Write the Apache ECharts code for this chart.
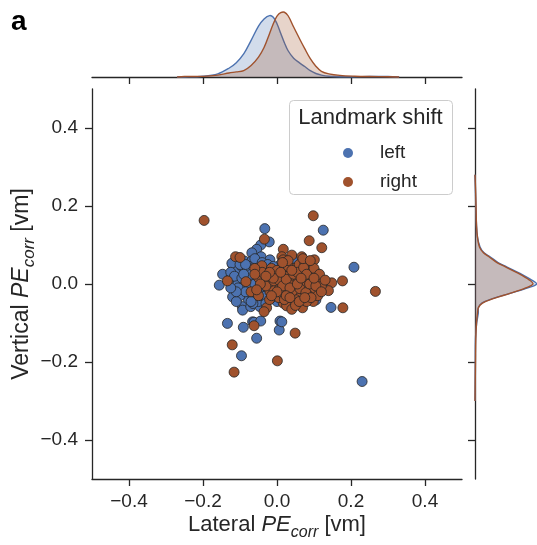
<!DOCTYPE html>
<html><head><meta charset="utf-8">
<script src="https://cdn.jsdelivr.net/npm/echarts@6/dist/echarts.min.js"></script>
<style>html,body{margin:0;padding:0;background:#fff}#c{width:537px;height:545px}</style>
</head><body><div id="c"></div>
<script>
// ---------- data ----------
const groupNames = ['left', 'right'];
const tickValues = [-0.4, -0.2, 0.0, 0.2, 0.4];

const leftPoints = [
  [-0.033,0.142],[0.125,0.138],[-0.021,0.108],[-0.044,0.100],[-0.055,0.089],[-0.068,0.080],
  [-0.120,0.050],[-0.088,0.059],[-0.068,0.059],[-0.043,0.070],[-0.019,0.062],[-0.064,0.036],
  [-0.147,0.025],[-0.156,-0.003],[-0.100,0.019],[-0.035,0.002],[-0.109,0.006],[0.008,0.049],
  [-0.005,0.040],[-0.014,0.027],[0.004,0.010],[0.208,0.043],[0.044,0.066],[0.071,0.055],
  [0.089,-0.003],[0.058,-0.001],[0.015,0.019],[-0.114,-0.015],[-0.120,-0.033],[-0.091,-0.024],
  [-0.075,-0.024],[-0.055,-0.026],[-0.077,-0.041],[-0.094,-0.058],[-0.093,-0.067],[-0.071,-0.058],
  [-0.046,-0.058],[-0.035,-0.041],[-0.010,-0.037],[0.008,-0.024],[-0.134,-0.101],[-0.091,-0.111],
  [-0.066,-0.097],[-0.062,-0.098],[-0.044,-0.095],[0.008,-0.095],[0.006,-0.118],[-0.055,-0.139],
  [-0.096,-0.184],[0.105,-0.041],[0.146,-0.060],[0.013,-0.097],[0.058,-0.028],[0.089,-0.007],
  [0.053,-0.007],[0.230,-0.250],[-0.122,0.053],
  [-0.08,0.01],[-0.07,0.0],[-0.06,-0.01],[-0.05,0.015],[-0.045,-0.005],[-0.04,0.025],[-0.03,-0.015],
  [-0.025,0.005],[-0.02,-0.005],[-0.015,0.015],[-0.01,-0.01],[-0.005,0.005],[0.0,-0.015],[0.01,0.0],
  [0.02,0.01],[0.025,-0.01],[0.03,0.03],[-0.09,-0.005],[-0.085,0.03],[-0.075,0.045],[-0.06,0.02],
  [-0.055,0.05],[-0.035,0.045],[-0.025,0.035],[-0.03,0.015],[-0.02,0.02],[-0.01,0.03],[-0.04,-0.025],
  [-0.02,-0.03],[-0.065,-0.035],[-0.05,-0.045],[-0.1,-0.03],[-0.11,-0.045],[-0.105,0.035],[-0.13,0.01],
  [-0.095,0.045],[0.04,0.015],[0.035,-0.02],[0.05,0.04],[0.065,0.02],[-0.045,0.005],[-0.035,-0.008],
  [-0.015,-0.02],[-0.005,0.02],[0.005,-0.005],[-0.025,0.0],[-0.065,0.01],[-0.05,-0.015],[-0.03,0.008],
  [-0.01,0.0],[0.015,-0.012],[-0.075,-0.012],[-0.04,0.012],[-0.02,0.008],[-0.012,-0.004],[0.0,0.012],
  [-0.125,0.03],[-0.115,0.02],[-0.105,-0.01],[-0.095,0.015],[-0.085,-0.02],[-0.08,0.04],[-0.07,0.025],
  [-0.065,-0.05],[-0.06,0.065],[-0.055,-0.005],[-0.05,0.035],[-0.045,-0.03],[-0.04,0.055],[-0.035,0.02],
  [-0.03,-0.03],[-0.025,0.05],[-0.02,-0.015],[-0.015,0.0],[-0.01,0.045],[-0.005,-0.025],[0.0,0.025],
  [0.005,0.035],[0.01,-0.035],[0.015,0.03],[0.02,-0.02],[0.03,0.005],[0.035,0.04],[0.045,-0.01],
  [-0.1,0.05],[-0.085,0.05],[-0.11,-0.02],[-0.125,-0.01],[-0.07,-0.045],[-0.03,-0.05],[0.0,-0.045],
  [-0.09,0.025],[-0.06,0.0],[-0.045,0.018],[-0.035,0.032],[-0.015,-0.035]
];

const rightPoints = [
  [-0.197,0.163],[0.098,0.175],[0.087,0.111],[0.121,0.093],[0.101,0.062],[0.266,-0.019],
  [0.177,0.008],[0.148,0.003],[0.125,0.006],[0.139,-0.017],[0.178,-0.061],[0.049,-0.126],
  [0.001,-0.197],[-0.116,-0.226],[-0.121,-0.156],[-0.062,-0.107],[-0.134,0.008],[-0.112,0.070],
  [-0.100,0.068],[-0.034,0.115],[0.017,0.089],[-0.041,0.047],[-0.050,0.016],[-0.028,0.015],
  [-0.084,0.006],[0.013,0.070],[0.040,0.074],[0.067,0.070],[0.087,0.036],[0.017,0.062],
  [0.109,0.020],[0.035,0.023],[0.062,0.023],[0.033,0.002],[-0.028,-0.061],[-0.035,-0.071],
  [-0.019,-0.020],[0.001,-0.020],[0.017,-0.049],[0.042,-0.041],[0.069,-0.061],[0.073,-0.041],
  [0.089,-0.020],[0.026,-0.056],[0.049,-0.011],[0.098,-0.045],
  [0.0,0.0],[0.01,0.015],[0.02,-0.005],[0.025,0.03],[0.03,-0.025],[0.035,0.01],[0.04,-0.005],
  [0.045,0.04],[0.05,0.015],[0.055,-0.02],[0.06,0.005],[0.065,-0.03],[0.07,0.03],[0.075,0.01],
  [0.08,-0.01],[0.085,0.015],[0.09,0.045],[0.095,0.005],[0.1,-0.015],[0.105,0.03],[0.11,-0.03],
  [-0.005,0.025],[-0.01,-0.01],[-0.015,0.04],[-0.02,0.005],[-0.03,-0.005],[-0.04,0.03],[-0.06,0.04],
  [-0.07,-0.02],[0.015,0.045],[0.005,-0.035],[0.02,0.055],[0.03,0.045],[0.06,0.05],[0.075,0.055],
  [0.05,-0.04],[0.08,-0.045],[0.04,-0.065],[0.012,0.002],[0.018,0.008],[0.028,-0.012],[0.038,0.018],
  [0.045,0.002],[0.052,-0.008],[0.058,0.012],[0.065,0.0],[0.008,-0.008],[-0.008,0.008],[0.022,0.02],
  [0.032,0.0],[0.042,-0.018],[0.07,-0.005],[0.085,-0.03],[0.095,0.025],[0.015,-0.025],[0.0,0.035],
  [-0.02,-0.04],[-0.05,-0.03],[0.11,0.01],[0.12,-0.005],
  [0.005,0.01],[0.015,-0.005],[0.025,0.012],[0.035,-0.01],[0.045,0.025],[0.055,0.03],[0.062,-0.012],
  [0.072,0.042],[0.078,-0.022],[0.088,0.0],[0.092,-0.035],[0.1,0.04],[0.105,-0.005],[0.115,0.025],
  [0.12,-0.02],[0.13,0.01],[0.0,-0.02],[-0.01,0.015],[-0.02,0.03],[-0.03,0.02],[-0.045,0.0],
  [-0.055,-0.015],[-0.06,0.025],[0.01,0.03],[0.02,-0.04],[0.03,0.06],[0.04,0.035],[0.05,-0.055],
  [0.06,-0.045],[0.07,0.065],[0.08,0.025],[0.09,0.06],[0.025,-0.03],[0.055,0.0],[0.065,0.015],
  [0.035,-0.035],[0.015,0.055],[-0.015,-0.03],[0.1,0.015],[0.075,-0.035]
];

// marginal density curves
const topKdeX = [-0.27,-0.25,-0.20,-0.16,-0.13,-0.11,-0.09,-0.07,-0.05,-0.035,-0.02,-0.01,0.0,0.01,0.02,0.03,0.045,0.06,0.075,0.09,0.105,0.12,0.14,0.17,0.21,0.25,0.30,0.33];
const topKdeLeft = [0,0,0.05,0.2,0.55,0.9,1.45,2.3,3.2,3.65,3.86,3.75,3.35,2.75,2.15,1.65,1.18,0.9,0.66,0.4,0.22,0.12,0.05,0.02,0.02,0.03,0.03,0];
const topKdeRight = [0,0.03,0.04,0.12,0.25,0.32,0.4,0.72,1.25,1.85,2.74,3.35,3.82,4.04,4.07,3.85,3.14,2.45,1.78,1.15,0.68,0.36,0.2,0.1,0.05,0.03,0.02,0];

const sideKdeY = [0.28,0.25,0.20,0.15,0.12,0.095,0.08,0.07,0.055,0.044,0.027,0.01,0.0,-0.01,-0.024,-0.037,-0.049,-0.06,-0.075,-0.1,-0.14,-0.2,-0.25,-0.3];
const sideKdeLeft = [0,0.04,0.1,0.19,0.31,0.63,1.13,1.88,2.88,3.96,5.63,7.09,7.7,6.6,4.38,2.29,0.84,0.44,0.41,0.21,0.06,0.04,0.02,0.01];
const sideKdeRight = [0,0.06,0.13,0.19,0.31,0.56,1.06,1.75,2.75,3.81,5.44,6.81,7.25,6.35,4.38,2.38,0.94,0.44,0.31,0.19,0.1,0.06,0.03,0];

// ---------- styling ----------
const C_LEFT = '#4c72b0', C_RIGHT = '#a0522d';
const F_LEFT = 'rgba(76,114,176,0.25)', F_RIGHT = 'rgba(160,82,45,0.25)';
const INK = '#262626';
const FONT = '"Liberation Sans", Arial, sans-serif';
const fmt = v => (v < 0 ? '\u2212' : '') + Math.abs(v).toFixed(1);

function nameRich(sz) {
  return {
    n: {fontSize: sz, fontFamily: FONT, color: INK, verticalAlign: 'top', lineHeight: sz + 1},
    i: {fontSize: sz, fontFamily: FONT, color: INK, fontStyle: 'italic', verticalAlign: 'top', lineHeight: sz + 1},
    s: {fontSize: Math.round(sz * 0.72), fontFamily: FONT, color: INK, fontStyle: 'italic', verticalAlign: 'top',
        lineHeight: Math.round(sz * 0.72), padding: [Math.round(sz * 0.48), 0, 0, 0]}
  };
}

const axisLineStyle = {onZero: false, lineStyle: {color: INK, width: 1.3}};
const axisTickStyle = {length: 7, lineStyle: {color: INK, width: 1.3}, customValues: tickValues};

function kdeSeries(name, xIdx, yIdx, pts, stroke, fill, vertical) {
  return {
    type: 'custom', name: name + '_kde', xAxisIndex: xIdx, yAxisIndex: yIdx,
    data: pts, encode: {x: 0, y: 1}, silent: true, clip: false,
    renderItem: function (params, api) {
      if (params.dataIndex !== 0) return null;
      const line = pts.map(p => api.coord(p));
      let base;
      if (vertical) base = [api.coord([0, pts[pts.length-1][1]]), api.coord([0, pts[0][1]])];
      else base = [api.coord([pts[pts.length-1][0], 0]), api.coord([pts[0][0], 0])];
      return {type: 'group', children: [
        {type: 'polygon', shape: {points: line.concat(base), smooth: 0.35}, style: {fill: fill, stroke: null}},
        {type: 'polyline', shape: {points: line, smooth: 0.35}, style: {fill: null, stroke: stroke, lineWidth: 1.4}}
      ]};
    }
  };
}

const chart = echarts.init(document.getElementById('c'), null, {renderer: 'canvas'});
chart.setOption({
  animation: false,
  backgroundColor: '#fff',
  grid: [
    {left: 92, top: 89, width: 370, height: 390, outerBoundsMode: 'none'},
    {left: 92, top: 0, width: 370, height: 77, outerBoundsMode: 'none'},
    {left: 475, top: 89, width: 78, height: 390, outerBoundsMode: 'none'}
  ],
  xAxis: [
    {gridIndex: 0, type: 'value', min: -0.5, max: 0.5,
     axisLine: axisLineStyle, axisTick: axisTickStyle, splitLine: {show: false},
     axisLabel: {customValues: tickValues, formatter: fmt, fontSize: 19, fontFamily: FONT, color: INK, margin: 13},
     name: '{n|Lateral }{i|PE}{s|corr}{n| [vm]}', nameLocation: 'middle', nameGap: 35, nameMoveOverlap: false,
     nameTextStyle: {rich: nameRich(22)}},
    {gridIndex: 1, type: 'value', min: -0.5, max: 0.5,
     axisLine: axisLineStyle, axisTick: axisTickStyle, splitLine: {show: false},
     axisLabel: {show: false}},
    {gridIndex: 2, type: 'value', min: 0, max: 9.75, show: false}
  ],
  yAxis: [
    {gridIndex: 0, type: 'value', min: -0.5, max: 0.5,
     axisLine: {show: true, ...axisLineStyle}, axisTick: {show: true, ...axisTickStyle}, splitLine: {show: false},
     axisLabel: {customValues: tickValues, formatter: fmt, fontSize: 19, fontFamily: FONT, color: INK, margin: 14},
     name: '{n|Vertical }{i|PE}{s|corr}{n| [vm]}', nameLocation: 'middle', nameGap: 58, nameMoveOverlap: false,
     nameTextStyle: {rich: nameRich(23)}},
    {gridIndex: 1, type: 'value', min: 0, max: 4.84, show: false},
    {gridIndex: 2, type: 'value', min: -0.5, max: 0.5,
     axisLine: {show: true, ...axisLineStyle}, axisTick: {show: true, ...axisTickStyle}, splitLine: {show: false},
     axisLabel: {show: false}}
  ],
  legend: {
    data: groupNames, orient: 'vertical', left: 338, top: 138, itemGap: 9,
    icon: 'circle', itemWidth: 10, itemHeight: 10,
    textStyle: {fontSize: 19, fontFamily: FONT, color: INK, padding: [0, 0, 0, 22], lineHeight: 20},
    itemStyle: {borderWidth: 0}, z: 6
  },
  graphic: [
    {type: 'rect', z: 3, shape: {x: 289.5, y: 100.5, width: 163, height: 94, r: 4},
     style: {fill: 'rgba(255,255,255,0.8)', stroke: '#cccccc', lineWidth: 1}},
    {type: 'text', z: 7, x: 370.5, y: 117.5,
     style: {text: 'Landmark shift', fontSize: 22, fontFamily: FONT, fill: INK, align: 'center', verticalAlign: 'middle'}},
    {type: 'text', z: 7, x: 11, y: 22,
     style: {text: 'a', fontSize: 28, fontWeight: 'bold', fontFamily: FONT, fill: '#000', align: 'left', verticalAlign: 'middle'}}
  ],
  series: [
    {name: 'left', type: 'scatter', xAxisIndex: 0, yAxisIndex: 0, data: leftPoints, symbolSize: 10,
     itemStyle: {color: C_LEFT, borderColor: INK, borderWidth: 0.8, opacity: 1}},
    {name: 'right', type: 'scatter', xAxisIndex: 0, yAxisIndex: 0, data: rightPoints, symbolSize: 10,
     itemStyle: {color: C_RIGHT, borderColor: INK, borderWidth: 0.8, opacity: 1}},
    kdeSeries('left', 1, 1, topKdeX.map((x, i) => [x, topKdeLeft[i]]), C_LEFT, F_LEFT, false),
    kdeSeries('right', 1, 1, topKdeX.map((x, i) => [x, topKdeRight[i]]), C_RIGHT, F_RIGHT, false),
    kdeSeries('left', 2, 2, sideKdeY.map((y, i) => [sideKdeLeft[i], y]), C_LEFT, F_LEFT, true),
    kdeSeries('right', 2, 2, sideKdeY.map((y, i) => [sideKdeRight[i], y]), C_RIGHT, F_RIGHT, true)
  ]
});
</script></body></html>
